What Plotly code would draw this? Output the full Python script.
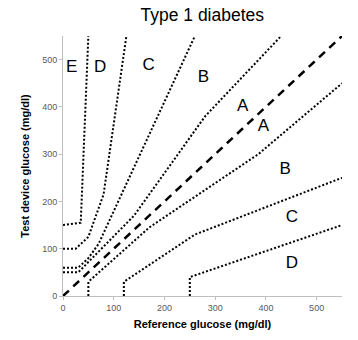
import plotly.graph_objects as go

# Parkes error grid (Type 1) zone boundaries
upper_ab_x = [0, 30, 140, 280, 430]
upper_ab_y = [50, 50, 170, 380, 550]
lower_ab_x = [50, 50, 170, 385, 550]
lower_ab_y = [0, 30, 145, 300, 450]
upper_bc_x = [0, 30, 50, 70, 260]
upper_bc_y = [60, 60, 80, 110, 550]
lower_bc_x = [120, 120, 260, 550]
lower_bc_y = [0, 30, 130, 250]
upper_cd_x = [0, 25, 50, 80, 125]
upper_cd_y = [100, 100, 125, 215, 550]
lower_cd_x = [250, 250, 550]
lower_cd_y = [0, 40, 150]
upper_de_x = [0, 35, 50]
upper_de_y = [150, 155, 550]
identity_x = [0, 550]
identity_y = [0, 550]

zone_labels = ["E", "D", "C", "B", "A", "A", "B", "C", "D"]
zone_label_x = [17, 73, 169, 277, 354, 395, 438, 451, 451]
zone_label_y = [483, 483, 487, 462, 400, 358, 267, 165, 69]

fig = go.Figure()
for xs, ys in [(upper_ab_x, upper_ab_y), (lower_ab_x, lower_ab_y),
               (upper_bc_x, upper_bc_y), (lower_bc_x, lower_bc_y),
               (upper_cd_x, upper_cd_y), (lower_cd_x, lower_cd_y),
               (upper_de_x, upper_de_y)]:
    fig.add_trace(go.Scatter(x=xs, y=ys, mode="lines",
                             line=dict(color="black", width=2, dash="2px,2px"),
                             showlegend=False, hoverinfo="skip"))
fig.add_trace(go.Scatter(x=identity_x, y=identity_y, mode="lines",
                         line=dict(color="black", width=2.5, dash="8px,6px"),
                         showlegend=False, hoverinfo="skip"))
fig.add_trace(go.Scatter(x=zone_label_x, y=zone_label_y, mode="text",
                         text=zone_labels,
                         textfont=dict(family="Liberation Sans, Arial", size=17, color="black"),
                         showlegend=False, hoverinfo="skip"))

axis_common = dict(range=[0, 550], tickvals=[0, 100, 200, 300, 400, 500],
                   showgrid=False, zeroline=False, showline=True,
                   linecolor="#bfbfbf", linewidth=1, ticks="outside",
                   ticklen=3, tickcolor="#bfbfbf",
                   tickfont=dict(family="Liberation Sans, Arial", size=9, color="#595959"))

fig.update_layout(
    width=358, height=340,
    margin=dict(l=63, r=16, t=36, b=44),
    paper_bgcolor="white", plot_bgcolor="white",
    title=dict(text="Type 1 diabetes", x=0.565, xanchor="center", y=0.955, yanchor="middle",
               font=dict(family="Liberation Sans, Arial", size=17.5, color="black")),
    xaxis=dict(**axis_common,
               title=dict(text="<b>Reference glucose (mg/dl)</b>", standoff=8,
                          font=dict(family="Liberation Sans, Arial", size=11, color="black"))),
    yaxis=dict(**axis_common,
               title=dict(text="<b>Test device glucose (mg/dl)</b>", standoff=10,
                          font=dict(family="Liberation Sans, Arial", size=11, color="black"))),
)
fig.write_html("out.html")
